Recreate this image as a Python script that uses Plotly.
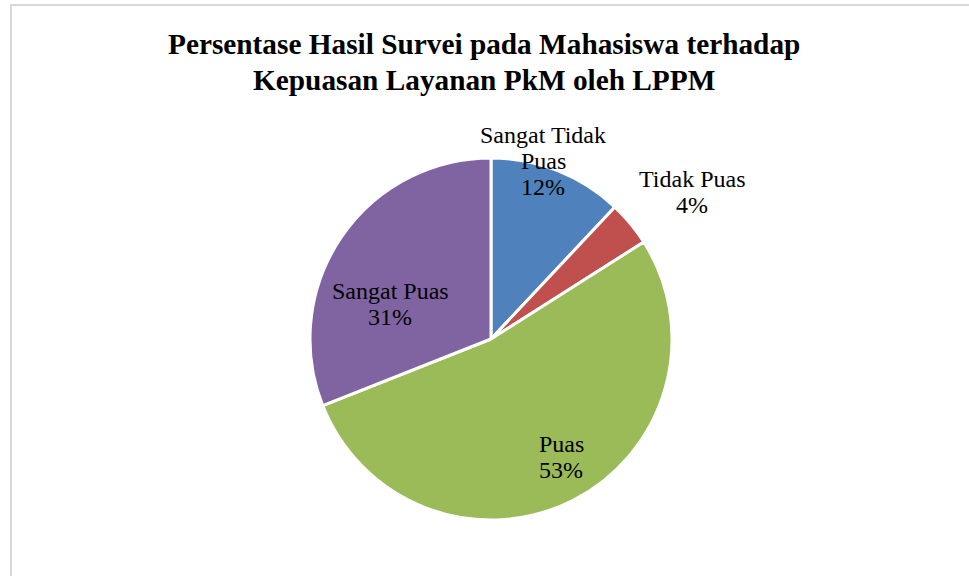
import plotly.graph_objects as go

categories = ["Sangat Tidak Puas", "Tidak Puas", "Puas", "Sangat Puas"]
values = [12, 4, 53, 31]
label_lines = [["Sangat Tidak", "Puas", "12%"], ["Tidak Puas", "4%"], ["Puas", "53%"], ["Sangat Puas", "31%"]]
colors = ["#4F81BD", "#C0504D", "#9BBB59", "#8064A2"]
title_lines = ["Persentase Hasil Survei pada Mahasiswa terhadap", "Kepuasan Layanan PkM oleh LPPM"]

W, H = 969, 576
cx, cy, r = 491, 339, 181
# label block centres (pixels), as placed in the original layout
label_centres = [(543, 161), (692, 192), (561, 457), (390, 304)]
line_gap = 26.5

fig = go.Figure(go.Pie(
    labels=categories,
    values=values,
    textinfo="none",
    sort=False,
    direction="clockwise",
    rotation=0,
    marker=dict(colors=colors, line=dict(color="white", width=3)),
    showlegend=False,
    domain=dict(x=[(cx - r) / W, (cx + r) / W], y=[(H - cy - r) / H, (H - cy + r) / H]),
    hoverinfo="label+percent",
))

annotations = []
for lines, (lx, ly) in zip(label_lines, label_centres):
    n = len(lines)
    for j, line in enumerate(lines):
        py = ly + (j - (n - 1) / 2) * line_gap
        annotations.append(dict(
            text=line, x=lx / W, y=1 - py / H, xref="paper", yref="paper",
            xanchor="center", yanchor="middle", showarrow=False,
            font=dict(family="Liberation Serif", size=24, color="black"),
        ))

title_y = [44, 80]
for line, ty in zip(title_lines, title_y):
    annotations.append(dict(
        text=line, x=484 / W, y=1 - ty / H, xref="paper", yref="paper",
        xanchor="center", yanchor="middle", showarrow=False,
        font=dict(family="Liberation Serif", size=29.3, color="black", weight="bold"),
    ))

fig.update_layout(
    width=W, height=H,
    margin=dict(l=0, r=0, t=0, b=0),
    paper_bgcolor="white",
    annotations=annotations,
    shapes=[dict(type="rect", xref="paper", yref="paper",
                 x0=11 / W, x1=1.2, y0=-0.2, y1=1 - 5 / H,
                 line=dict(color="#D9D9D9", width=2), fillcolor="rgba(0,0,0,0)")],
)

fig.write_html("out.html", config={"displayModeBar": False},
               post_script="document.body.style.margin='0';")
